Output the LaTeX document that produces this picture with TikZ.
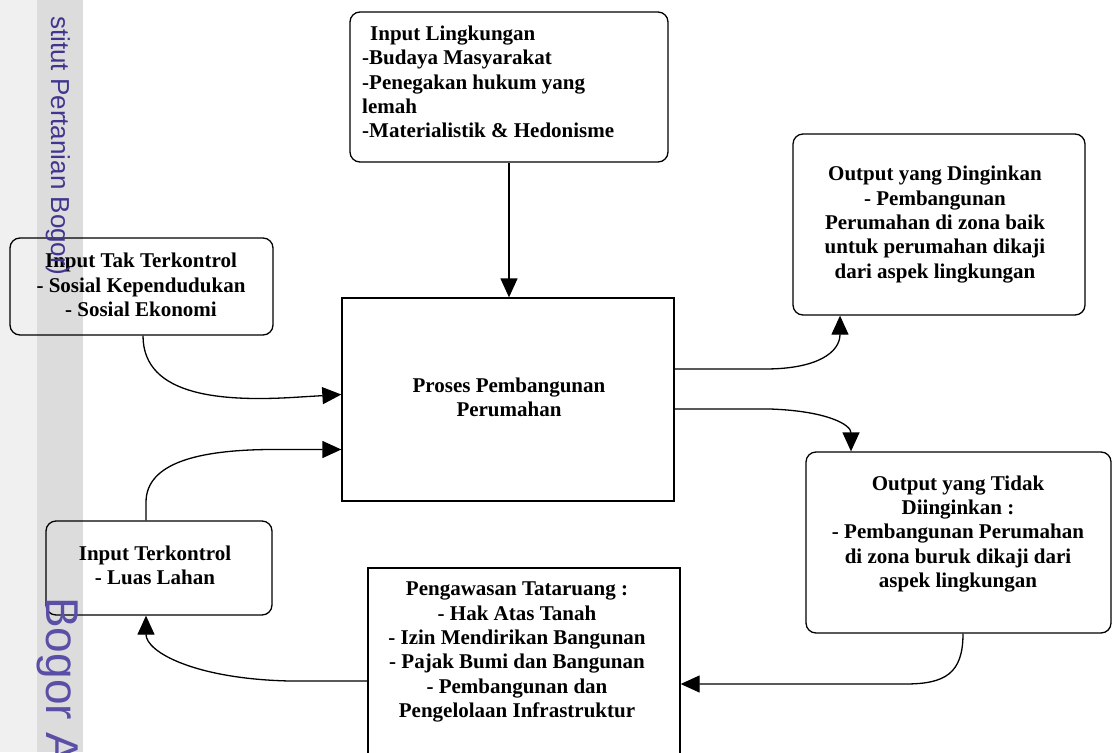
\documentclass[tikz,border=0pt]{standalone}
\usepackage{fontspec}
\setmainfont{Liberation Serif}
\newfontfamily\wmfont{Liberation Sans}
\usetikzlibrary{arrows.meta,calc}
\definecolor{stripl}{HTML}{F0F0F0}
\definecolor{stripg}{HTML}{DCDCDC}
\definecolor{wmblueA}{HTML}{40368F}
\definecolor{wmblueB}{HTML}{5A4FA6}
\begin{document}
\begin{tikzpicture}[x=1pt,y=-1pt,
 rbox/.style={draw, line width=1.3pt, rounded corners=10pt, inner sep=0pt},
 sbox/.style={draw, line width=1.3pt, inner sep=0pt},
 btxt/.style={font=\fontsize{21}{24.3}\selectfont\bfseries, inner sep=0pt, align=center},
 arr/.style={line width=1.3pt, -{Triangle[length=19pt,width=17pt]}},
 wm/.style={inner sep=0pt, rotate=-90}]
\useasboundingbox (0,0) rectangle (1113,752);
\begin{scope}
\clip (0,0) rectangle (1113,752);
\fill[stripl] (0,0) rectangle (37,752);
\fill[stripg] (37,0) rectangle (83,752);

% boxes
\node[rbox, minimum width=318pt, minimum height=150pt] (envbox) at (509,87) {};
\node[btxt, align=left, anchor=west] (envtxt) at (362,82) {\hspace*{8pt}Input Lingkungan\\-Budaya Masyarakat\\-Penegakan hukum yang\\lemah\\-Materialistik \& Hedonisme};

\node[rbox, minimum width=263pt, minimum height=97pt] (uncbox) at (141.5,286.5) {};
\node[btxt] (unctxt) at (141,285) {Input Tak Terkontrol\\- Sosial Kependudukan\\- Sosial Ekonomi};

\node[sbox, minimum width=332pt, minimum height=203pt] (procbox) at (508,399.5) {};
\node[btxt] (proctxt) at (509,397.5) {Proses Pembangunan\\Perumahan};

\node[rbox, minimum width=292pt, minimum height=181pt] (desbox) at (939,224.5) {};
\node[btxt] (destxt) at (935,224.5) {Output yang Dinginkan\\- Pembangunan\\Perumahan di zona baik\\untuk perumahan dikaji\\dari aspek lingkungan};

\node[rbox, minimum width=305pt, minimum height=181pt] (undbox) at (958.5,542.5) {};
\node[btxt] (undtxt) at (958,534) {Output yang Tidak\\Diinginkan :\\- Pembangunan Perumahan\\di zona buruk dikaji dari\\aspek lingkungan};

\node[sbox, minimum width=312pt, minimum height=200pt] (pengbox) at (524,668) {};
\node[btxt] (pengtxt) at (517,652) {Pengawasan Tataruang :\\- Hak Atas Tanah\\- Izin Mendirikan Bangunan\\- Pajak Bumi dan Bangunan\\- Pembangunan dan\\Pengelolaan Infrastruktur};

\node[rbox, minimum width=226pt, minimum height=94pt] (ctrlbox) at (159,568) {};
\node[btxt] (ctrltxt) at (155,565) {Input Terkontrol\\- Luas Lahan};

% connectors
\draw[arr] (envbox.south) -- (envbox.south |- procbox.north);
\draw[arr] ([xshift=1.5pt]uncbox.south) .. controls +(0,62) and (225,402) .. (300,397) -- ([yshift=5pt]procbox.west);
\draw[arr] ([xshift=-13pt]ctrlbox.north) -- ++(0,-18) .. controls +(0,-40) and (200,450) .. (270,449.5) -- ([yshift=-50pt]procbox.west);
\draw[arr] ([yshift=30.5pt]procbox.east) -- (765,369) .. controls (818,369) and (840,352) .. ([xshift=-99pt]desbox.south);
\draw[arr] ([yshift=-9.5pt]procbox.east) -- (770,409) .. controls (828,411) and (851,425) .. ([xshift=-107.5pt]undbox.north);
\draw[arr] ([xshift=4.5pt]undbox.south) .. controls +(0,40) and (945,684) .. (905,684) -- ([yshift=-16pt]pengbox.east);
\draw[arr] ([yshift=-13pt]pengbox.west) -- (290,681) .. controls (195,679) and (146,652) .. ([xshift=-13pt]ctrlbox.south);

% watermark
\node[wm, text=wmblueA, font=\wmfont\fontsize{26}{26}\selectfont, anchor=base east] (wmtop) at (51,275) {stitut Pertanian Bogor)};
\node[wm, text=wmblueB, font=\wmfont\fontsize{46}{46}\selectfont, anchor=base west] (wmbot) at (46,597) {Bogor A};
\end{scope}
\end{tikzpicture}
\end{document}
